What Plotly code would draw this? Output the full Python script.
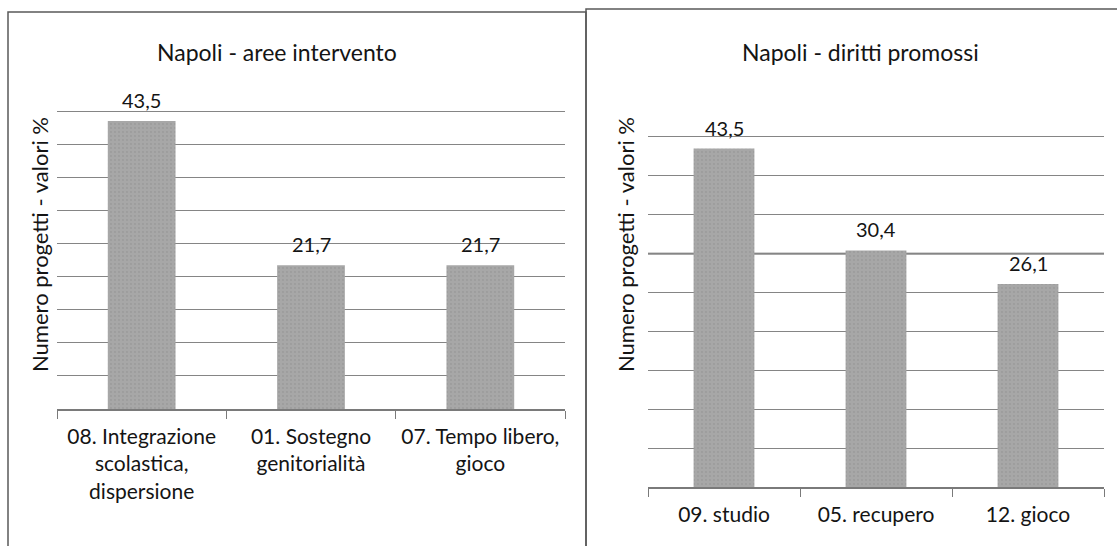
import plotly.graph_objects as go

W, H = 1117, 546

# ---------------- data ----------------
left_title = "Napoli - aree intervento"
left_categories = [
    "08. Integrazione<br>scolastica,<br>dispersione",
    "01. Sostegno<br>genitorialità",
    "07. Tempo libero,<br>gioco",
]
left_values = [43.5, 21.7, 21.7]

right_title = "Napoli - diritti promossi"
right_categories = ["09. studio", "05. recupero", "12. gioco"]
right_values = [43.5, 30.4, 26.1]

y_title = "Numero progetti - valori %"

# ---------------- styles ----------------
FONT = "Lato"
TXT = "#141414"
BAR = "#a7a7a7"
GRID = "#858585"
AX = "#7a7a7a"


def px_x(p):
    return p / W


def px_y(p):
    return 1 - p / H


fig = go.Figure()

bar_style = dict(
    marker=dict(
        color=BAR,
        line=dict(width=0),
        pattern=dict(shape=".", fgcolor="#939393", size=4, solidity=0.25, fillmode="overlay"),
    ),
    width=0.4,
    showlegend=False,
    hoverinfo="skip",
)

fig.add_trace(go.Bar(x=left_categories, y=left_values, xaxis="x", yaxis="y", **bar_style))
fig.add_trace(go.Bar(x=right_categories, y=right_values, xaxis="x2", yaxis="y2", **bar_style))

xax = dict(
    type="category",
    range=[-0.5, 2.5],
    tickson="boundaries",
    ticks="outside",
    ticklen=8,
    tickwidth=1,
    tickcolor=AX,
    showline=True,
    linecolor=AX,
    linewidth=1.5,
    showgrid=False,
    zeroline=False,
    tickfont=dict(family=FONT, size=21, color=TXT),
    ticklabelstandoff=8,
    fixedrange=True,
)
yax = dict(
    range=[0, 50],
    dtick=5,
    showgrid=True,
    gridcolor=GRID,
    gridwidth=1.2,
    showticklabels=False,
    zeroline=False,
    showline=False,
    ticks="",
    fixedrange=True,
)

annotations = []
# data labels
for cats, vals, xr, yr in [
    (left_categories, left_values, "x", "y"),
    (right_categories, right_values, "x2", "y2"),
]:
    for c, v in zip(cats, vals):
        annotations.append(dict(
            x=c, y=v, xref=xr, yref=yr,
            text=f"{v:.1f}".replace(".", ","),
            showarrow=False, yanchor="middle", yshift=21,
            font=dict(family=FONT, size=20, color=TXT),
        ))

# chart titles
for t, cx in [(left_title, 277), (right_title, 860)]:
    annotations.append(dict(
        x=px_x(cx), y=px_y(52), xref="paper", yref="paper",
        text=t, showarrow=False, xanchor="center", yanchor="middle",
        font=dict(family=FONT, size=23, color=TXT),
    ))

# y-axis titles
for cx in [40, 626]:
    annotations.append(dict(
        x=px_x(cx), y=px_y(245), xref="paper", yref="paper",
        text=y_title, textangle=-90, showarrow=False,
        xanchor="center", yanchor="middle",
        font=dict(family=FONT, size=22, color=TXT),
    ))

# panel borders (chart area frames)
shapes = [
    dict(type="rect", xref="paper", yref="paper",
         x0=px_x(8), x1=px_x(586), y0=px_y(560), y1=px_y(12),
         line=dict(color="#5a5a5a", width=1.5), fillcolor="rgba(0,0,0,0)", layer="below"),
    dict(type="rect", xref="paper", yref="paper",
         x0=px_x(586), x1=px_x(1130), y0=px_y(560), y1=px_y(9),
         line=dict(color="#5a5a5a", width=1.5), fillcolor="rgba(0,0,0,0)", layer="below"),
    # darker gridline at 30 on the right chart
    dict(type="line", xref="x2 domain", yref="y2",
         x0=0, x1=1, y0=30, y1=30,
         line=dict(color="#505050", width=1.8), layer="below"),
]

fig.update_layout(
    width=W, height=H,
    margin=dict(l=0, r=0, t=0, b=0),
    paper_bgcolor="white",
    plot_bgcolor="white",
    separators=",.",
    xaxis=dict(domain=[px_x(57), px_x(565)], anchor="y", **xax),
    yaxis=dict(domain=[px_y(409), px_y(78)], anchor="x", **yax),
    xaxis2=dict(domain=[px_x(648), px_x(1104)], anchor="y2", **xax),
    yaxis2=dict(domain=[px_y(487), px_y(98)], anchor="x2", **yax),
    annotations=annotations,
    shapes=shapes,
    showlegend=False,
    font=dict(family=FONT, color=TXT),
)

fig.write_html("out.html", config={"displayModeBar": False})
